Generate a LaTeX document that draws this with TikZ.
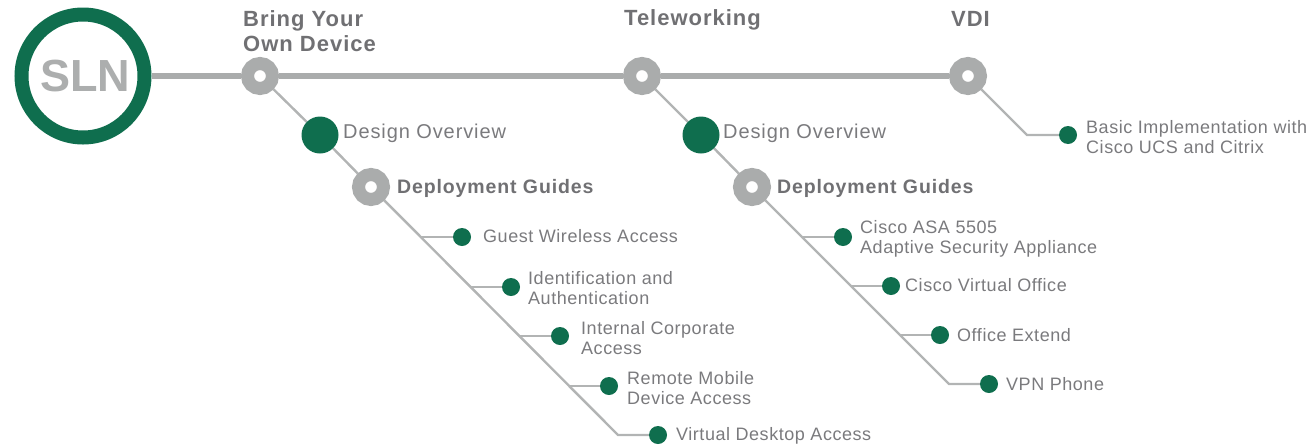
\documentclass[tikz,border=0pt]{standalone}
\usepackage{fontspec}
\setmainfont{Liberation Sans}[LetterSpace=3]
\newfontfamily\slnfont{Liberation Sans}
\newfontfamily\widefont{Liberation Sans}[LetterSpace=4.5]
\usetikzlibrary{backgrounds}
\definecolor{slngreen}{RGB}{15,110,78}
\definecolor{ringgray}{RGB}{170,172,172}
\definecolor{linegray}{RGB}{178,180,180}
\definecolor{headgray}{RGB}{112,112,115}
\definecolor{itemgray}{RGB}{122,122,125}
\definecolor{slntext}{RGB}{172,174,174}
\tikzset{
  bigring/.style={circle, draw=slngreen, line width=14pt, fill=white, minimum size=123pt, inner sep=0pt},
  grayring/.style={circle, draw=ringgray, line width=13pt, fill=white, minimum size=25pt, inner sep=0pt},
  bigdot/.style={circle, fill=slngreen, minimum size=37pt, inner sep=0pt},
  smalldot/.style={circle, fill=slngreen, minimum size=18pt, inner sep=0pt},
  mainline/.style={draw=ringgray, line width=6pt},
  thinline/.style={draw=linegray, line width=2.4pt},
  headtxt/.style={anchor=west, inner sep=0pt, align=left, text=headgray, font=\widefont\fontsize{22}{25}\selectfont\bfseries},
  overtxt/.style={anchor=west, inner sep=0pt, text=itemgray, font=\widefont\fontsize{20}{22}\selectfont},
  deptxt/.style={anchor=west, inner sep=0pt, text=headgray, font=\widefont\fontsize{19.5}{22}\selectfont\bfseries},
  itemtxt/.style={anchor=west, inner sep=0pt, align=left, text=itemgray, font=\fontsize{18}{20.5}\selectfont},
}
\begin{document}
\begin{tikzpicture}[x=1pt,y=-1pt]
\useasboundingbox (0,0) rectangle (1311,445);
% main nodes
\node[bigring] (sln) at (83,76) {};
\node[text=slntext, font=\slnfont\fontsize{45}{45}\selectfont\bfseries, inner sep=0pt] (slnt) at (85,76) {SLN};
\node[grayring] (byod) at (260,76) {};
\node[grayring] (tele) at (642,76) {};
\node[grayring] (vdi) at (968,76) {};
% BYOD branch
\node[bigdot] (do1) at (320,135) {};
\node[grayring] (dg1) at (371,187) {};
\coordinate (b1) at (421,237);
\coordinate (b2) at (471,287);
\coordinate (b3) at (520,336);
\coordinate (b4) at (569,386);
\coordinate (e1) at (618,435);
\node[smalldot] (g1) at (462,237) {};
\node[smalldot] (g2) at (511,287) {};
\node[smalldot] (g3) at (560,336) {};
\node[smalldot] (g4) at (609,386) {};
\node[smalldot] (g5) at (658,435) {};
% Teleworking branch
\node[bigdot] (do2) at (701,135) {};
\node[grayring] (dg2) at (752,187) {};
\coordinate (c1) at (802,237);
\coordinate (c2) at (851,286);
\coordinate (c3) at (900,335);
\coordinate (e2) at (949,384);
\node[smalldot] (h1) at (843,237) {};
\node[smalldot] (h2) at (891,286) {};
\node[smalldot] (h3) at (940,335) {};
\node[smalldot] (h4) at (989,384) {};
% VDI branch
\coordinate (v1) at (1027,135);
\node[smalldot] (vd) at (1068,135) {};
% connectors
\begin{scope}[on background layer]
\draw[mainline] (sln) -- (byod);
\draw[mainline] (byod) -- (tele);
\draw[mainline] (tele) -- (vdi);
\draw[thinline] (byod) -- (do1);
\draw[thinline] (do1) -- (dg1);
\draw[thinline] (dg1) -- (e1) -- (g5);
\draw[thinline] (b1) -- (g1);
\draw[thinline] (b2) -- (g2);
\draw[thinline] (b3) -- (g3);
\draw[thinline] (b4) -- (g4);
\draw[thinline] (tele) -- (do2);
\draw[thinline] (do2) -- (dg2);
\draw[thinline] (dg2) -- (e2) -- (h4);
\draw[thinline] (c1) -- (h1);
\draw[thinline] (c2) -- (h2);
\draw[thinline] (c3) -- (h3);
\draw[thinline] (vdi) -- (v1) -- (vd);
\end{scope}
% texts
\node[headtxt] (hb) at (243,31) {Bring Your\\Own Device};
\node[headtxt] (ht) at (624,20) {Teleworking};
\node[headtxt] (hv) at (951,18.5) {VDI};
\node[overtxt] (o1) at (343,133) {Design Overview};
\node[overtxt] (o2) at (723,133) {Design Overview};
\node[deptxt] (d1) at (397,188.5) {Deployment Guides};
\node[deptxt] (d2) at (777,188.5) {Deployment Guides};
\node[itemtxt] (t1) at (483,236.5) {Guest Wireless Access};
\node[itemtxt] (t2) at (528,288) {Identification and\\Authentication};
\node[itemtxt] (t3) at (581,338) {Internal Corporate\\Access};
\node[itemtxt] (t4) at (627,388) {Remote Mobile\\Device Access};
\node[itemtxt] (t5) at (676,436) {Virtual Desktop Access};
\node[itemtxt] (u1) at (860,239) {Cisco ASA 5505\\Adaptive Security Appliance};
\node[itemtxt] (u2) at (905,285.5) {Cisco Virtual Office};
\node[itemtxt] (u3) at (957,335.5) {Office Extend};
\node[itemtxt] (u4) at (1006,384.5) {VPN Phone};
\node[itemtxt] (u5) at (1086,137) {Basic Implementation with\\Cisco UCS and Citrix};
\end{tikzpicture}
\end{document}
